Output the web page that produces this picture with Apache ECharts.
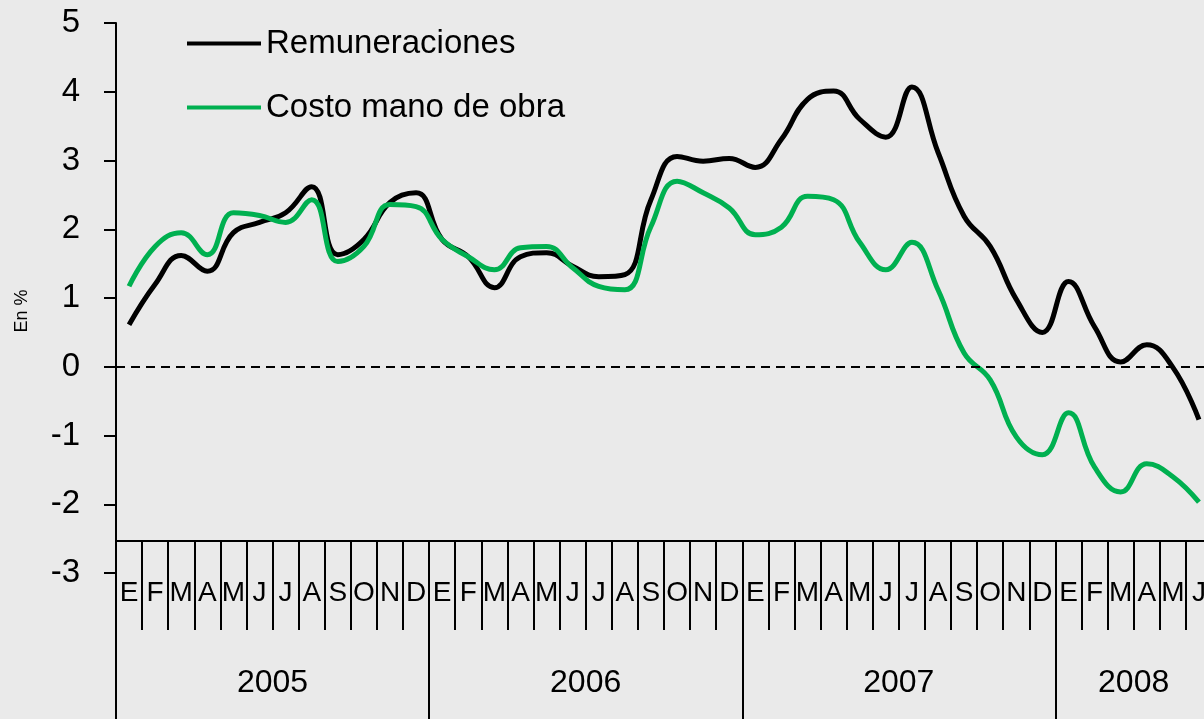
<!DOCTYPE html>
<html>
<head>
<meta charset="utf-8">
<script src="https://cdn.jsdelivr.net/npm/echarts@6/dist/echarts.min.js"></script>
<style>
  html, body { margin: 0; padding: 0; background: #eaeaea; }
  #chart { width: 1204px; height: 719px; }
</style>
</head>
<body>
<div id="chart"></div>
<script>
// month letters (Spanish initials) and the year spans
const monthLetters = ['E', 'F', 'M', 'A', 'M', 'J', 'J', 'A', 'S', 'O', 'N', 'D']
const months = [...monthLetters, ...monthLetters, ...monthLetters, ...monthLetters.slice(0, 6)]
const years = ['2005', '2006', '2007', '2008']
const yearStart = [0, 12, 24, 36]
const yearLabelIndex = [5, 17, 29, 38]

// values, % (ene-2005 .. jun-2008)
const remuneraciones = [
  0.61, 1.2, 1.62, 1.39, 1.95, 2.1, 2.24, 2.62, 1.63, 1.85, 2.39, 2.53,
  1.85, 1.6, 1.15, 1.6, 1.66, 1.46, 1.31, 1.34, 2.43, 3.06, 2.99, 3.03,
  2.9, 3.31, 3.89, 4.01, 3.6, 3.34, 4.07, 3.12, 2.19, 1.75, 0.98, 0.5,
  1.24, 0.58, 0.07, 0.32, -0.01, -0.77,
]
const costoManoObra = [
  1.17, 1.75, 1.95, 1.63, 2.24, 2.2, 2.1, 2.43, 1.53, 1.75, 2.36, 2.33,
  1.85, 1.6, 1.41, 1.73, 1.75, 1.44, 1.17, 1.12, 2.04, 2.7, 2.53, 2.31,
  1.92, 2.03, 2.48, 2.43, 1.81, 1.41, 1.81, 1.12, 0.2, -0.19, -1.02, -1.28,
  -0.67, -1.46, -1.82, -1.41, -1.6, -1.97,
]

const yearCategories = months.map((m, i) => {
  const k = yearLabelIndex.indexOf(i)
  return k >= 0 ? years[k] : ''
})

const font = 'Liberation Sans, Arial, sans-serif'
const chart = echarts.init(document.getElementById('chart'))

chart.setOption({
  backgroundColor: '#eaeaea',
  animation: false,
  textStyle: { fontFamily: font, color: '#000' },
  grid: {
    left: 116,
    top: 23,
    width: 1096,
    bottom: 146,
    containLabel: false,
    outerBoundsMode: 'none',
  },
  legend: {
    orient: 'vertical',
    left: 182,
    top: 22,
    icon: 'rect',
    itemWidth: 74,
    itemHeight: 4,
    itemGap: 31,
    textStyle: { fontFamily: font, fontSize: 33, color: '#000' },
    data: ['Remuneraciones', 'Costo mano de obra'],
  },
  xAxis: [
    {
      type: 'category',
      data: months,
      boundaryGap: true,
      position: 'bottom',
      offset: -32,
      axisLine: { show: true, onZero: false, lineStyle: { color: '#000', width: 2 } },
      axisTick: { show: true, interval: 0, length: 89, lineStyle: { color: '#000', width: 2 } },
      axisLabel: { interval: 0, margin: 38, fontSize: 28, fontFamily: font, color: '#000' },
      splitLine: { show: false },
    },
    {
      type: 'category',
      data: yearCategories,
      boundaryGap: true,
      position: 'bottom',
      offset: -32,
      axisLine: { show: false, onZero: false },
      axisTick: {
        show: true,
        interval: (index) => yearStart.indexOf(index) >= 0,
        length: 200,
        lineStyle: { color: '#000', width: 2 },
      },
      axisLabel: {
        interval: 0,
        margin: 126,
        fontSize: 32,
        fontFamily: font,
        color: '#000',
        padding: [0, 0, 0, 26],
      },
      splitLine: { show: false },
    },
  ],
  yAxis: {
    type: 'value',
    min: -3,
    max: 5,
    interval: 1,
    name: 'En %',
    nameLocation: 'middle',
    nameGap: 85,
    nameTextStyle: { fontFamily: font, fontSize: 18, color: '#000', padding: [0, 26, 0, 0] },
    axisLine: { show: true, lineStyle: { color: '#000', width: 2 } },
    axisTick: { show: true, length: 12, lineStyle: { color: '#000', width: 2 } },
    axisLabel: { margin: 36, fontSize: 33, fontFamily: font, color: '#000' },
    splitLine: { show: false },
  },
  series: [
    {
      name: 'Remuneraciones',
      type: 'line',
      xAxisIndex: 0,
      data: remuneraciones,
      smooth: 0.45,
      symbol: 'none',
      lineStyle: { color: '#000', width: 5 },
      itemStyle: { color: '#000' },
      markLine: {
        silent: true,
        symbol: 'none',
        label: { show: false },
        lineStyle: { color: '#000', width: 2, type: [9, 6] },
        data: [{ yAxis: 0 }],
      },
    },
    {
      name: 'Costo mano de obra',
      type: 'line',
      xAxisIndex: 0,
      data: costoManoObra,
      smooth: 0.45,
      symbol: 'none',
      lineStyle: { color: '#00b050', width: 5 },
      itemStyle: { color: '#00b050' },
    },
  ],
})
</script>
</body>
</html>
